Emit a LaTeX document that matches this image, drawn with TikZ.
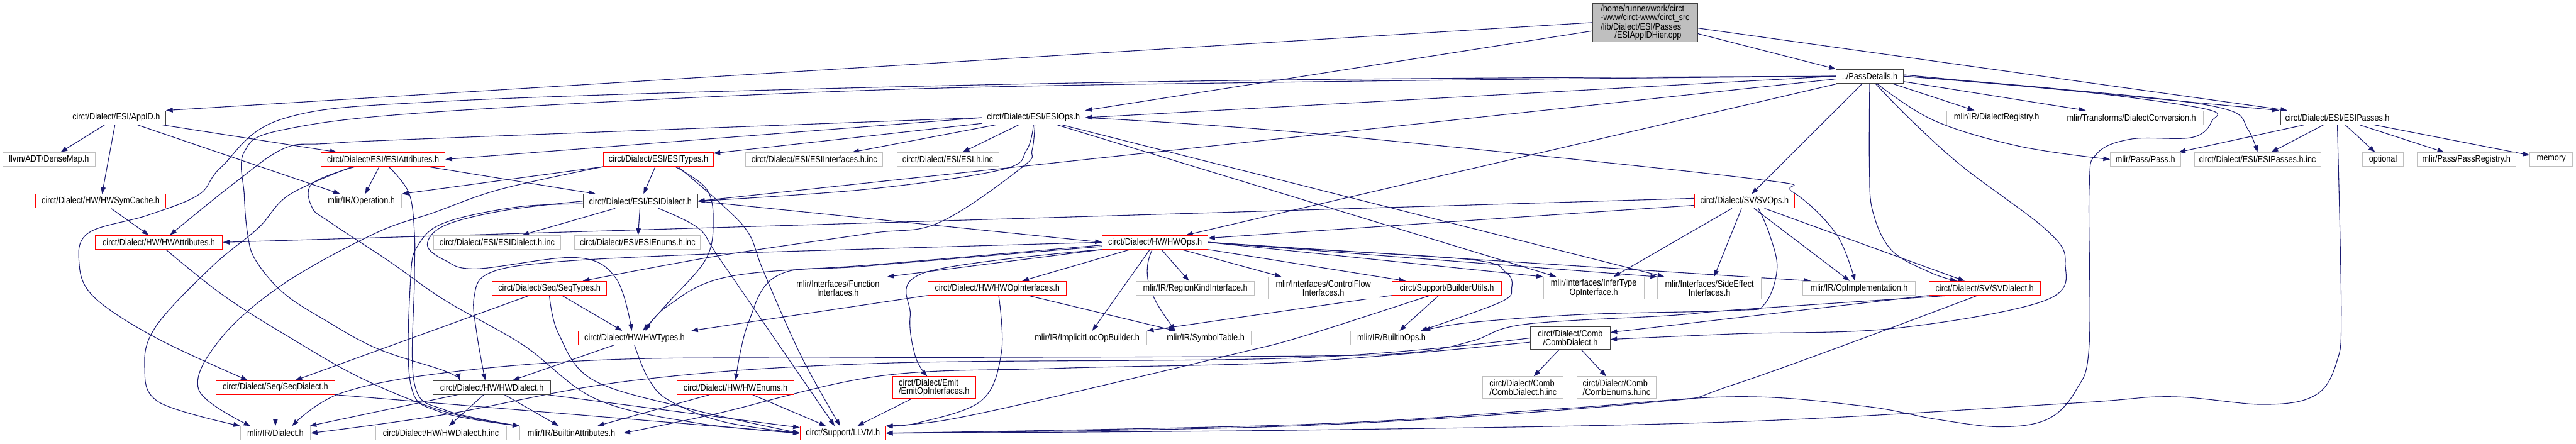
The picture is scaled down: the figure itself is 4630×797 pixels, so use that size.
\documentclass[tikz,border=0pt]{standalone}
\usepackage{fontspec}
\setmainfont{Liberation Sans}[FakeStretch=0.87]
\usetikzlibrary{arrows.meta}
\definecolor{edgeblue}{HTML}{191970}
\definecolor{boxgray}{HTML}{BFBFBF}
\definecolor{boxdark}{HTML}{404040}
\definecolor{rootfill}{HTML}{BFBFBF}
\pgfdeclarelayer{wires}
\pgfsetlayers{wires,main}
\tikzset{
  hdr/.style={draw, line width=0.6pt, fill=white, minimum height=0.5cm,
    inner sep=0pt, align=center, font=\fontsize{9.4}{8.6}\selectfont},
  redhdr/.style={hdr, draw=red},
  grayhdr/.style={hdr, draw=boxgray},
  darkhdr/.style={hdr, draw=boxdark},
  incl/.style={draw=edgeblue, line width=0.7pt,
    -{Triangle[length=0.24cm,width=0.17cm]}}
}

\begin{document}
\begin{tikzpicture}[x=0.02cm, y=-0.02cm]
  \useasboundingbox (0,0) rectangle (4630,797);

  % headers, row by row
  \node[darkhdr, fill=rootfill, minimum width=3.76cm, minimum height=1.38cm, align=left] (root) at (2957,40.5)
    {/home/runner/work/circt\\-www/circt-www/circt\_src\\/lib/Dialect/ESI/Passes\\\hspace*{0.5cm}/ESIAppIDHier.cpp};
  \node[darkhdr, minimum width=2.42cm] (passdet) at (3360.5,137) {../PassDetails.h};

  \node[darkhdr, minimum width=3.56cm] (appid) at (209,211.5) {circt/Dialect/ESI/AppID.h};
  \node[darkhdr, minimum width=3.70cm] (esiops) at (1857.5,211.5) {circt/Dialect/ESI/ESIOps.h};
  \node[grayhdr, minimum width=3.58cm] (dialreg) at (3588.5,211.5) {mlir/IR/DialectRegistry.h};
  \node[grayhdr, minimum width=5.16cm] (dialconv) at (3831,211.5) {mlir/Transforms/DialectConversion.h};
  \node[darkhdr, minimum width=4.08cm] (esipasses) at (4201,211.5) {circt/Dialect/ESI/ESIPasses.h};

  \node[grayhdr, minimum width=3.32cm] (densemap) at (88,286.5) {llvm/ADT/DenseMap.h};
  \node[redhdr, minimum width=4.46cm] (esiattr) at (688.5,286.5) {circt/Dialect/ESI/ESIAttributes.h};
  \node[redhdr, minimum width=3.94cm] (esitypes) at (1183.5,286.5) {circt/Dialect/ESI/ESITypes.h};
  \node[grayhdr, minimum width=4.94cm] (esiifcinc) at (1463.5,286.5) {circt/Dialect/ESI/ESIInterfaces.h.inc};
  \node[grayhdr, minimum width=3.66cm] (esiinc) at (1703.5,286.5) {circt/Dialect/ESI/ESI.h.inc};
  \node[grayhdr, minimum width=2.52cm] (passh) at (3856,286.5) {mlir/Pass/Pass.h};
  \node[grayhdr, minimum width=4.54cm] (esipassinc) at (4057.5,286.5) {circt/Dialect/ESI/ESIPasses.h.inc};
  \node[grayhdr, minimum width=1.48cm] (optional) at (4283,286.5) {optional};
  \node[grayhdr, minimum width=3.56cm] (passreg) at (4433,286.5) {mlir/Pass/PassRegistry.h};
  \node[grayhdr, minimum width=1.54cm] (memory) at (4585.5,286.5) {memory};

  \node[redhdr, minimum width=4.68cm] (symcache) at (181,361.5) {circt/Dialect/HW/HWSymCache.h};
  \node[grayhdr, minimum width=2.90cm] (operation) at (649.5,361.5) {mlir/IR/Operation.h};
  \node[darkhdr, minimum width=4.12cm] (esidialect) at (1151,361.5) {circt/Dialect/ESI/ESIDialect.h};
  \node[redhdr, minimum width=3.58cm] (svops) at (3135.5,361.5) {circt/Dialect/SV/SVOps.h};

  \node[redhdr, minimum width=4.58cm] (hwattr) at (285.5,435.5) {circt/Dialect/HW/HWAttributes.h};
  \node[grayhdr, minimum width=4.58cm] (esidialinc) at (893.5,435.5) {circt/Dialect/ESI/ESIDialect.h.inc};
  \node[grayhdr, minimum width=4.52cm] (esienuminc) at (1146,435.5) {circt/Dialect/ESI/ESIEnums.h.inc};
  \node[redhdr, minimum width=3.80cm] (hwops) at (2076,435.5) {circt/Dialect/HW/HWOps.h};

  \node[redhdr, minimum width=4.10cm] (seqtypes) at (987.5,518) {circt/Dialect/Seq/SeqTypes.h};
  \node[grayhdr, minimum width=3.52cm, minimum height=0.8cm] (funcifc) at (1506,518) {mlir/Interfaces/Function\\Interfaces.h};
  \node[redhdr, minimum width=4.98cm] (hwopifc) at (1792.5,518) {circt/Dialect/HW/HWOpInterfaces.h};
  \node[grayhdr, minimum width=4.26cm] (regionkind) at (2148.5,518) {mlir/IR/RegionKindInterface.h};
  \node[grayhdr, minimum width=3.98cm, minimum height=0.8cm] (ctrlflow) at (2378.5,518) {mlir/Interfaces/ControlFlow\\Interfaces.h};
  \node[redhdr, minimum width=3.94cm] (builderutils) at (2600.5,518) {circt/Support/BuilderUtils.h};
  \node[grayhdr, minimum width=3.62cm, minimum height=0.8cm] (infertype) at (2864.5,518) {mlir/Interfaces/InferType\\OpInterface.h};
  \node[grayhdr, minimum width=3.74cm, minimum height=0.8cm] (sideeffect) at (3072.5,518) {mlir/Interfaces/SideEffect\\Interfaces.h};
  \node[grayhdr, minimum width=4.06cm] (opimpl) at (3341.5,518) {mlir/IR/OpImplementation.h};
  \node[redhdr, minimum width=4.00cm] (svdialect) at (3567,518) {circt/Dialect/SV/SVDialect.h};

  \node[redhdr, minimum width=4.06cm] (hwtypes) at (1140.5,607.5) {circt/Dialect/HW/HWTypes.h};
  \node[grayhdr, minimum width=4.28cm] (implicitloc) at (1954,607.5) {mlir/IR/ImplicitLocOpBuilder.h};
  \node[grayhdr, minimum width=3.28cm] (symtable) at (2167,607.5) {mlir/IR/SymbolTable.h};
  \node[grayhdr, minimum width=2.96cm] (builtinops) at (2501,607.5) {mlir/IR/BuiltinOps.h};
  \node[darkhdr, minimum width=2.86cm, minimum height=0.82cm] (combdialect) at (2822.5,607.5) {circt/Dialect/Comb\\/CombDialect.h};

  \node[redhdr, minimum width=4.28cm] (seqdialect) at (495,696.5) {circt/Dialect/Seq/SeqDialect.h};
  \node[darkhdr, minimum width=4.24cm] (hwdialect) at (884,696.5) {circt/Dialect/HW/HWDialect.h};
  \node[redhdr, minimum width=4.20cm] (hwenums) at (1322,696.5) {circt/Dialect/HW/HWEnums.h};
  \node[redhdr, minimum width=3.00cm, minimum height=0.78cm, align=left] (emitifc) at (1679,696.5) {circt/Dialect/Emit\\/EmitOpInterfaces.h};
  \node[grayhdr, minimum width=2.90cm, minimum height=0.78cm, align=left] (combdialinc) at (2737.5,696.5) {circt/Dialect/Comb\\/CombDialect.h.inc};
  \node[grayhdr, minimum width=2.86cm, minimum height=0.78cm, align=left] (combenuminc) at (2905.5,696.5) {circt/Dialect/Comb\\/CombEnums.h.inc};

  \node[grayhdr, minimum width=2.52cm] (irdialect) at (495,778.5) {mlir/IR/Dialect.h};
  \node[grayhdr, minimum width=4.70cm] (hwdialinc) at (792.5,778.5) {circt/Dialect/HW/HWDialect.h.inc};
  \node[grayhdr, minimum width=3.72cm] (builtinattr) at (1027,778.5) {mlir/IR/BuiltinAttributes.h};
  \node[redhdr, minimum width=3.08cm] (llvm) at (1515,778.5) {circt/Support/LLVM.h};

  \begin{pgfonlayer}{wires}
  % the source file
  \draw[incl] (root.west) -- (appid.north east);
  \draw[incl] ([yshift=-0.3cm]root.west) -- (esiops.north east);
  \draw[incl] ([yshift=-0.4cm]root.east) -- (passdet.north west);
  \draw[incl] ([yshift=-0.2cm]root.east) -- ([xshift=-1.8cm]esipasses.north);

  % AppID.h
  \draw[incl] (appid) -- (densemap);
  \draw[incl] (appid) -- (symcache);
  \draw[incl] (appid) -- (operation);
  \draw[incl] (appid) -- (esiattr);

  % PassDetails.h
  \draw[incl] (passdet.west) -- (esiops.east);
  \draw[incl] ([yshift=-0.1cm]passdet.west) -- (esidialect.east);
  \draw[incl] (passdet) -- (hwops);
  \draw[incl] (passdet) -- (svops);
  \draw[incl] (passdet) -- (dialreg);
  \draw[incl] (passdet) -- (dialconv);
  \draw[incl] ([yshift=0.05cm]passdet.east) -- ([xshift=-2.1cm]esipasses.north);
  \draw[incl] plot[smooth, tension=0.6] coordinates {(passdet.east) (3830,172) (4003,197) (4040,232) (esipassinc.north)};
  \draw[incl] plot[smooth, tension=0.6] coordinates {([xshift=0.25cm]passdet.south) (3477,217) (3630,263) (passh.west)};
  \draw[incl] plot[smooth, tension=0.6] coordinates {(passdet.south) (3360,300) (3366,380) (3400,450) (3470,490) ([xshift=-1cm]svdialect.north)};
  \draw[incl] plot[smooth, tension=0.6] coordinates {([xshift=0.2cm]passdet.south) (3436,217) (3528,300) (3680,415) (3712,473) (3676,540) (3406,590) (3120,600) ([yshift=-0.05cm]combdialect.east)};
  \draw[incl] plot[smooth, tension=0.6] coordinates {(passdet.east) (3700,160) (3960,195) (3975,218) (3940,247) (3830,250) (3768,277) (3755,340) (3755,620) (3732,700) (3681,753) (3594,767) (3477,753) (3350,730) (3120,713) (2800,735) (2340,763) (llvm.east)};
  \draw[incl] plot[smooth, tension=0.6] coordinates {(passdet.west) (2360,143) (1570,157) (800,182) (510,213) (398,300) (357,350) (265,387) (160,418) (142,470) (168,533) (280,607) ([xshift=-1cm]seqdialect.north)};
  \draw[incl] plot[smooth, tension=0.6] coordinates {(passdet.west) (2360,147) (1570,162) (800,200) (510,233) (439,273) (439,350) (445,420) (459,467) (510,527) (587,577) (679,627) (800,667) ([xshift=-1.16cm]hwdialect.north)};

  % ESIOps.h
  \draw[incl] (esiops.west) -- (esiattr.east);
  \draw[incl] (esiops) -- (esitypes);
  \draw[incl] (esiops) -- (esiifcinc);
  \draw[incl] (esiops) -- (esiinc);
  \draw[incl] (esiops) -- (infertype);
  \draw[incl] (esiops) -- (sideeffect);
  \draw[incl] plot[smooth, tension=0.6] coordinates {(esiops.south) (1845,270) (1800,305) (1560,340) (esidialect.east)};
  \draw[incl] plot[smooth, tension=0.6] coordinates {([xshift=0.05cm]esiops.south) (1855,270) (1838,300) (1688,400) (1560,420) (1290,460) ([xshift=1.2cm]seqtypes.north)};
  \draw[incl] plot[smooth, tension=0.6] coordinates {(esiops.west) (800,248) (587,258) (510,267) (420,330) ([xshift=0.4cm]hwattr.north)};
  \draw[incl] plot[smooth, tension=0.6] coordinates {(esiops.east) (2360,240) (3140,320) (3222,345) (3300,420) ([xshift=-0.15cm]opimpl.north)};

  % ESIPasses.h
  \draw[incl] (esipasses) -- (passh);
  \draw[incl] (esipasses) -- (esipassinc);
  \draw[incl] (esipasses) -- (optional);
  \draw[incl] (esipasses) -- (passreg);
  \draw[incl] (esipasses) -- (memory);
  \draw[incl] plot[smooth, tension=0.6] coordinates {(esipasses.south) (4208,560) (4200,650) (4162,710) (4070,727) (3900,713) (3720,725) (3120,758) (2340,773) (llvm.east)};

  \draw[incl] (symcache) -- (hwattr);

  % ESIAttributes.h
  \draw[incl] (esiattr) -- (operation);
  \draw[incl] (esiattr) -- (esidialect);
  \draw[incl] plot[smooth, tension=0.6] coordinates {([xshift=-1.1cm]esiattr.south) (520,350) (464,410) (380,480) (280,587) (260,660) (286,723) (irdialect.north west)};
  \draw[incl] plot[smooth, tension=0.6] coordinates {([xshift=-1cm]esiattr.south) (561,330) (561,373) (594,400) (700,470) (800,540) (940,620) (1071,717) (1250,760) (llvm.west)};
  \draw[incl] plot[smooth, tension=0.6] coordinates {([xshift=0.2cm]esiattr.south) (735,347) (745,420) (745,500) (745,690) (800,737) (builtinattr.north west)};

  % ESITypes.h
  \draw[incl] (esitypes) -- (esidialect);
  \draw[incl] (esitypes.south west) -- (operation.north east);
  \draw[incl] plot[smooth, tension=0.6] coordinates {([xshift=0.6cm]esitypes.south) (1270,340) (1282,400) (1268,467) (1200,545) ([xshift=0.3cm]hwtypes.north)};
  \draw[incl] plot[smooth, tension=0.6] coordinates {([xshift=0.7cm]esitypes.south) (1300,370) (1346,420) (1372,487) (1440,640) ([xshift=-0.1cm]llvm.north)};
  \draw[incl] plot[smooth, tension=0.6] coordinates {(esitypes.south west) (900,340) (780,382) (673,420) (510,510) (398,607) (357,700) ([xshift=-0.9cm]irdialect.north)};

  % ESIDialect.h
  \draw[incl] (esidialect) -- (esidialinc);
  \draw[incl] (esidialect) -- (esienuminc);
  \draw[incl] (esidialect.east) -- (hwops.west);
  \draw[incl] plot[smooth, tension=0.6] coordinates {([xshift=0.65cm]esidialect.south) (1255,410) (1290,460) (1400,620) ([xshift=-0.3cm]llvm.north)};
  \draw[incl] plot[smooth, tension=0.6] coordinates {(esidialect.west) (908,378) (800,405) (768,440) (800,468) (857,483) (1035,463) (1107,500) ([xshift=-0.1cm]hwtypes.north)};
  \draw[incl] plot[smooth, tension=0.6] coordinates {([yshift=-0.1cm]esidialect.west) (930,372) (800,400) (752,440) (738,500) (738,690) (790,740) (builtinattr.north west)};

  % Seq, HW and Emit headers
  \draw[incl] (seqtypes) -- (seqdialect);
  \draw[incl] (seqtypes) -- (hwtypes);
  \draw[incl] plot[smooth, tension=0.6] coordinates {(seqtypes.south) (1004,600) (1066,683) (1240,735) (llvm.west)};
  \draw[incl] (hwtypes) -- (hwdialect);
  \draw[incl] plot[smooth, tension=0.6] coordinates {(hwtypes.south) (1165,680) (1203,720) (1300,758) (llvm.west)};
  \draw[incl] (hwenums) -- (builtinattr);
  \draw[incl] (hwenums) -- (llvm);
  \draw[incl] (hwdialect) -- (hwdialinc);
  \draw[incl] (hwdialect) -- (builtinattr);
  \draw[incl] (hwdialect) -- (llvm);
  \draw[incl] (hwdialect) -- (irdialect);
  \draw[incl] (seqdialect) -- (irdialect);
  \draw[incl] (seqdialect.south east) -- (llvm.west);
  \draw[incl] plot[smooth, tension=0.6] coordinates {([xshift=0.25cm]hwattr.south) (400,530) (510,600) (650,680) (800,740) (builtinattr.north west)};
  \draw[incl] (emitifc) -- (llvm);

  % HWOps.h
  \draw[incl] plot[smooth, tension=0.6] coordinates {(hwops.west) (1580,447) (1239,458) (984,472) (877,492) (852,535) (857,600) ([xshift=-0.24cm]hwdialect.north)};
  \draw[incl] plot[smooth, tension=0.6] coordinates {([yshift=-0.1cm]hwops.west) (1580,475) (1311,497) (1200,550) ([xshift=0.4cm]hwtypes.north)};
  \draw[incl] plot[smooth, tension=0.6] coordinates {([yshift=-0.15cm]hwops.west) (1560,478) (1400,494) (1345,580) (hwenums.north)};
  \draw[incl] (hwops.south west) -- (funcifc.north east);
  \draw[incl] (hwops) -- (hwopifc);
  \draw[incl] (hwops) -- (implicitloc);
  \draw[incl] ([xshift=-0.1cm]hwops.south) to[out=-115,in=125] ([xshift=-1.1cm]symtable.north);
  \draw[incl] (hwops) -- (regionkind);
  \draw[incl] (hwops) -- (ctrlflow);
  \draw[incl] (hwops.south east) -- ([xshift=0.5cm]builderutils.north west);
  \draw[incl] (hwops.east) -- (infertype.north west);
  \draw[incl] (hwops.east) -- (sideeffect.north west);
  \draw[incl] (hwops.east) -- ([xshift=0.3cm]opimpl.north west);
  \draw[incl] plot[smooth, tension=0.6] coordinates {(hwops.south west) (1662,490) (1636,567) (1645,640) ([xshift=-0.25cm]emitifc.north)};
  \draw[incl] plot[smooth, tension=0.6] coordinates {(hwops.east) (2340,447) (2646,467) (2707,490) (2717,517) (2697,543) ([xshift=1.05cm]builtinops.north)};

  % HWOpInterfaces.h and BuilderUtils.h
  \draw[incl] (hwopifc.south west) -- (hwtypes.north east);
  \draw[incl] plot[smooth, tension=0.6] coordinates {([xshift=0.05cm]hwopifc.south) (1800,633) (1764,720) (1650,760) (llvm.north east)};
  \draw[incl] (hwopifc) -- (symtable);
  \draw[incl] (builderutils.south west) -- (implicitloc.north east);
  \draw[incl] (builderutils) -- (builtinops);
  \draw[incl] plot[smooth, tension=0.6] coordinates {([xshift=-0.6cm]builderutils.south) (2340,605) (2220,636) (1900,712) (1700,755) (llvm.north east)};

  % SVOps.h and SVDialect.h
  \draw[incl] ([yshift=0.1cm]svops.west) -- (hwattr.east);
  \draw[incl] ([yshift=-0.15cm]svops.west) -- ([yshift=0.15cm]hwops.east);
  \draw[incl] (svops) -- (infertype);
  \draw[incl] (svops) -- (sideeffect);
  \draw[incl] (svops) -- (opimpl);
  \draw[incl] (svops) -- (svdialect);
  \draw[incl] plot[smooth, tension=0.6] coordinates {([xshift=0.5cm]svops.south) (3180,420) (3194,483) (3171,547) (3120,558) (2850,565) (2640,580) ([xshift=1.15cm]builtinops.north)};
  \draw[incl] (svdialect.south west) -- ([yshift=0.2cm]combdialect.east);
  \draw[incl] plot[smooth, tension=0.6] coordinates {([xshift=0.8cm]svdialect.south west) (3120,557) (3003,567) (2740,583) (2646,613) (2544,633) (2340,640) (1560,643) (1107,646) (800,670) (612,707) ([xshift=0.6cm]irdialect.north)};
  \draw[incl] plot[smooth, tension=0.6] coordinates {([xshift=-0.25cm]svdialect.south) (3120,690) (2960,724) (2340,765) (llvm.east)};

  % CombDialect.h
  \draw[incl] (combdialect) -- (combdialinc);
  \draw[incl] (combdialect) -- (combenuminc);
  \draw[incl] plot[smooth, tension=0.6] coordinates {(combdialect.west) (2340,643) (1580,653) (1137,684) (800,745) (irdialect.east)};
  \draw[incl] plot[smooth, tension=0.6] coordinates {([yshift=-0.15cm]combdialect.west) (2340,650) (1900,662) (1580,676) (1290,743) (builtinattr.east)};
  \end{pgfonlayer}
\end{tikzpicture}
\end{document}
